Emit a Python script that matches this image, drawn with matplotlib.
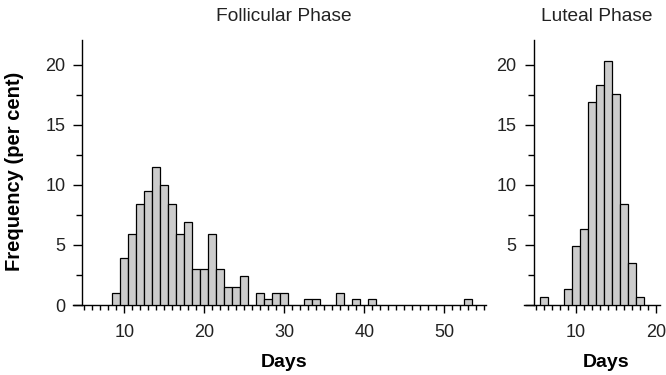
import matplotlib
matplotlib.use("Agg")
import matplotlib.pyplot as plt
from matplotlib.ticker import MultipleLocator

plt.rcParams['font.family'] = ['Liberation Sans', 'DejaVu Sans']

# follicular phase length (days) -> frequency (per cent)
fol_days = [9, 10, 11, 12, 13, 14, 15, 16, 17, 18, 19, 20, 21, 22, 23, 24, 25,
            27, 28, 29, 30, 33, 34, 37, 39, 41, 53]
fol_pct = [1.0, 3.9, 5.9, 8.4, 9.5, 11.5, 10.0, 8.4, 5.9, 6.9, 3.0, 3.0, 5.9,
           3.0, 1.5, 1.5, 2.4, 1.0, 0.5, 1.0, 1.0, 0.5, 0.5, 1.0, 0.5, 0.5, 0.5]

# luteal phase length (days) -> frequency (per cent)
lut_days = [6, 9, 10, 11, 12, 13, 14, 15, 16, 17, 18]
lut_pct = [0.7, 1.35, 4.9, 6.35, 16.9, 18.3, 20.35, 17.55, 8.45, 3.5, 0.7]

fol_xticks = [10, 20, 30, 40, 50]
lut_xticks = [10, 20]
yticks = [0, 5, 10, 15, 20]

txt = '#222222'
W, H = 666, 375

fig = plt.figure(figsize=(6.66, 3.75), dpi=100)
ax1 = fig.add_axes([73 / W, 70 / H, 413 / W, 265 / H])
ax2 = fig.add_axes([524.3 / W, 70 / H, 135.7 / W, 265 / H])


def style(ax, xmax, xticks, ylabels):
    ax.set_xlim(3.6, xmax)
    ax.set_ylim(0, 22.08)
    for s in ['top', 'right']:
        ax.spines[s].set_visible(False)
    ax.spines['left'].set_position(('data', 4.78))
    for s in ['left', 'bottom']:
        ax.spines[s].set_linewidth(1.0)
    ax.set_xticks(xticks)
    ax.set_yticks(yticks)
    ax.yaxis.set_minor_locator(MultipleLocator(2.5))
    if not ylabels:
        ax.set_yticklabels([''] + [str(v) for v in yticks[1:]])
    ax.tick_params(axis='x', which='major', length=6, width=1.0, pad=8,
                   labelsize=13, labelcolor=txt)
    ax.tick_params(axis='x', which='minor', length=3.5, width=1.0)
    ax.tick_params(axis='y', which='major', length=6.3, width=1.0, pad=6,
                   labelsize=13, labelcolor=txt)
    ax.tick_params(axis='y', which='minor', length=4.3, width=1.0)
    # minor x ticks every day from 5
    ax.set_xticks([d for d in range(5, int(xmax) + 1) if d not in xticks],
                  minor=True)


ax1.bar(fol_days, fol_pct, width=1.0, color='#cccccc', edgecolor='black',
        linewidth=0.9, zorder=3)
ax2.bar(lut_days, lut_pct, width=1.0, color='#cccccc', edgecolor='black',
        linewidth=0.9, zorder=3)

style(ax1, 55.2, fol_xticks, True)
style(ax2, 20.5, lut_xticks, False)

ax1.text((284 - 73) / 413, 1 + 19.3 / 265, 'Follicular Phase', transform=ax1.transAxes,
         ha='center', va='baseline', fontsize=13.8, color=txt)
ax2.text((596.7 - 524.3) / 135.7, 1 + 19.3 / 265, 'Luteal Phase', transform=ax2.transAxes,
         ha='center', va='baseline', fontsize=13.8, color=txt)

ax1.text((283.7 - 73) / 413, -61.7 / 265, 'Days', transform=ax1.transAxes,
         ha='center', va='baseline', fontsize=14, fontweight='bold', color='black')
ax2.text((606.3 - 524.3) / 135.7, -61.7 / 265, 'Days', transform=ax2.transAxes,
         ha='center', va='baseline', fontsize=14, fontweight='bold', color='black')

fig.text(15 / W, 1 - 171.5 / H, 'Frequency (per cent)', rotation=90,
         ha='center', va='center', fontsize=14.5, fontweight='bold', color='black')

fig.savefig('out.png', dpi=100)
